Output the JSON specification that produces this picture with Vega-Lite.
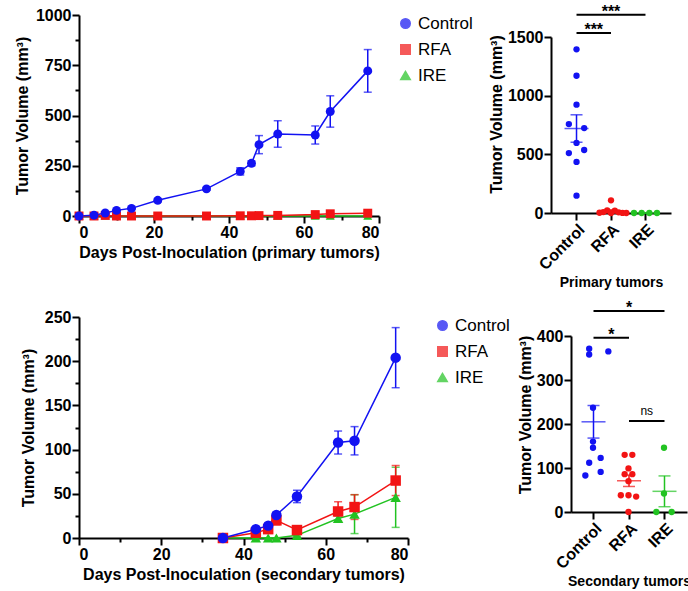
{
  "$schema": "https://vega.github.io/schema/vega-lite/v6.json",
  "padding": {"left": 14, "top": 3, "right": 0, "bottom": 0},
  "config": {
    "font": "Liberation Sans",
    "view": {"stroke": null},
    "axis": {
      "grid": false,
      "domainColor": "black", "domainWidth": 2,
      "tickColor": "black", "tickWidth": 2, "tickSize": 7,
      "labelFont": "Liberation Sans", "labelFontWeight": "bold", "labelFontSize": 16, "labelColor": "black", "labelPadding": 1,
      "titleFont": "Liberation Sans", "titleFontWeight": "bold", "titleFontSize": 16, "titleColor": "black"
    },
    "legend": {"labelFont": "Liberation Sans", "labelFontSize": 17, "labelColor": "black", "symbolSize": 90, "rowPadding": 8}
  },
  "datasets": {
    "primaryGrowth": [
      {"group": "IRE", "day": 0, "mean": 0, "sem": 0},
      {"group": "IRE", "day": 4, "mean": 0, "sem": 0},
      {"group": "IRE", "day": 7, "mean": 2, "sem": 1},
      {"group": "IRE", "day": 10, "mean": 0, "sem": 0},
      {"group": "IRE", "day": 14, "mean": 0, "sem": 0},
      {"group": "IRE", "day": 21, "mean": 0, "sem": 0},
      {"group": "IRE", "day": 34, "mean": 0, "sem": 0},
      {"group": "IRE", "day": 43, "mean": 0, "sem": 0},
      {"group": "IRE", "day": 46, "mean": 0, "sem": 0},
      {"group": "IRE", "day": 48, "mean": 0, "sem": 0},
      {"group": "IRE", "day": 53, "mean": 0, "sem": 0},
      {"group": "IRE", "day": 63, "mean": 0, "sem": 0},
      {"group": "IRE", "day": 67, "mean": 0, "sem": 0},
      {"group": "IRE", "day": 77, "mean": 0, "sem": 0},
      {"group": "RFA", "day": 0, "mean": 0, "sem": 0},
      {"group": "RFA", "day": 4, "mean": 0, "sem": 0},
      {"group": "RFA", "day": 7, "mean": 3, "sem": 1},
      {"group": "RFA", "day": 10, "mean": 0, "sem": 0},
      {"group": "RFA", "day": 14, "mean": 0, "sem": 0},
      {"group": "RFA", "day": 21, "mean": 0, "sem": 0},
      {"group": "RFA", "day": 34, "mean": 0, "sem": 0},
      {"group": "RFA", "day": 43, "mean": 1, "sem": 1},
      {"group": "RFA", "day": 46, "mean": 1, "sem": 1},
      {"group": "RFA", "day": 48, "mean": 2, "sem": 1},
      {"group": "RFA", "day": 53, "mean": 3, "sem": 1},
      {"group": "RFA", "day": 63, "mean": 7, "sem": 3},
      {"group": "RFA", "day": 67, "mean": 11, "sem": 5},
      {"group": "RFA", "day": 77, "mean": 14, "sem": 8},
      {"group": "Control", "day": 0, "mean": 0, "sem": 0},
      {"group": "Control", "day": 4, "mean": 4, "sem": 1},
      {"group": "Control", "day": 7, "mean": 15, "sem": 3},
      {"group": "Control", "day": 10, "mean": 28, "sem": 4},
      {"group": "Control", "day": 14, "mean": 38, "sem": 5},
      {"group": "Control", "day": 21, "mean": 78, "sem": 8},
      {"group": "Control", "day": 34, "mean": 135, "sem": 7},
      {"group": "Control", "day": 43, "mean": 222, "sem": 18},
      {"group": "Control", "day": 46, "mean": 262, "sem": 12},
      {"group": "Control", "day": 48, "mean": 355, "sem": 45},
      {"group": "Control", "day": 53, "mean": 408, "sem": 66},
      {"group": "Control", "day": 63, "mean": 403, "sem": 45},
      {"group": "Control", "day": 67, "mean": 520, "sem": 78},
      {"group": "Control", "day": 77, "mean": 722, "sem": 106}
    ],
    "secondaryGrowth": [
      {"group": "IRE", "day": 35, "mean": 0, "sem": 0},
      {"group": "IRE", "day": 43, "mean": 0, "sem": 0},
      {"group": "IRE", "day": 46, "mean": 0, "sem": 0},
      {"group": "IRE", "day": 48, "mean": 0, "sem": 0},
      {"group": "IRE", "day": 53, "mean": 3, "sem": 1},
      {"group": "IRE", "day": 63, "mean": 22, "sem": 3},
      {"group": "IRE", "day": 67, "mean": 27, "sem": 22},
      {"group": "IRE", "day": 77, "mean": 46, "sem": 34},
      {"group": "RFA", "day": 35, "mean": 0, "sem": 0},
      {"group": "RFA", "day": 43, "mean": 6, "sem": 2},
      {"group": "RFA", "day": 46, "mean": 10, "sem": 3},
      {"group": "RFA", "day": 48, "mean": 20, "sem": 5},
      {"group": "RFA", "day": 53, "mean": 9, "sem": 2},
      {"group": "RFA", "day": 63, "mean": 30, "sem": 11},
      {"group": "RFA", "day": 67, "mean": 35, "sem": 14},
      {"group": "RFA", "day": 77, "mean": 65, "sem": 17},
      {"group": "Control", "day": 35, "mean": 0, "sem": 0},
      {"group": "Control", "day": 43, "mean": 10, "sem": 2},
      {"group": "Control", "day": 46, "mean": 14, "sem": 2},
      {"group": "Control", "day": 48, "mean": 26, "sem": 3},
      {"group": "Control", "day": 53, "mean": 47, "sem": 7},
      {"group": "Control", "day": 63, "mean": 108, "sem": 13},
      {"group": "Control", "day": 67, "mean": 110, "sem": 16},
      {"group": "Control", "day": 77, "mean": 204, "sem": 34}
    ],
    "primaryFinal": [
      {"group": "Control", "slot": "5", "volume": 1395},
      {"group": "Control", "slot": "5", "volume": 1170},
      {"group": "Control", "slot": "5", "volume": 923},
      {"group": "Control", "slot": "3", "volume": 758},
      {"group": "Control", "slot": "7", "volume": 724},
      {"group": "Control", "slot": "5", "volume": 597},
      {"group": "Control", "slot": "3", "volume": 511},
      {"group": "Control", "slot": "7", "volume": 537},
      {"group": "Control", "slot": "5", "volume": 435},
      {"group": "Control", "slot": "5", "volume": 148},
      {"group": "RFA", "slot": "5", "volume": 108},
      {"group": "RFA", "slot": "4", "volume": 22},
      {"group": "RFA", "slot": "6", "volume": 20},
      {"group": "RFA", "slot": "3", "volume": 8},
      {"group": "RFA", "slot": "7", "volume": 6},
      {"group": "RFA", "slot": "2", "volume": 2},
      {"group": "RFA", "slot": "8", "volume": 1},
      {"group": "RFA", "slot": "5", "volume": 0},
      {"group": "RFA", "slot": "9", "volume": 0},
      {"group": "IRE", "slot": "2", "volume": 0},
      {"group": "IRE", "slot": "4", "volume": 0},
      {"group": "IRE", "slot": "6", "volume": 0},
      {"group": "IRE", "slot": "8", "volume": 0}
    ],
    "primaryStats": [
      {"group": "Control", "mean": 720, "sem": 117},
      {"group": "RFA", "mean": 16, "sem": 11},
      {"group": "IRE", "mean": 0, "sem": 0}
    ],
    "primarySig": [
      {"from": "Control", "to": "IRE", "level": 1690, "label": "***"},
      {"from": "Control", "to": "RFA", "level": 1535, "label": "***"}
    ],
    "secondaryFinal": [
      {"group": "Control", "slot": "4", "volume": 371},
      {"group": "Control", "slot": "4", "volume": 358},
      {"group": "Control", "slot": "9", "volume": 365},
      {"group": "Control", "slot": "5", "volume": 237},
      {"group": "Control", "slot": "5", "volume": 160},
      {"group": "Control", "slot": "5", "volume": 146},
      {"group": "Control", "slot": "4", "volume": 112},
      {"group": "Control", "slot": "7", "volume": 123},
      {"group": "Control", "slot": "3", "volume": 83},
      {"group": "Control", "slot": "7", "volume": 91},
      {"group": "RFA", "slot": "4", "volume": 130},
      {"group": "RFA", "slot": "6", "volume": 130},
      {"group": "RFA", "slot": "5", "volume": 99},
      {"group": "RFA", "slot": "4", "volume": 86},
      {"group": "RFA", "slot": "6", "volume": 86},
      {"group": "RFA", "slot": "5", "volume": 70},
      {"group": "RFA", "slot": "3", "volume": 38},
      {"group": "RFA", "slot": "5", "volume": 38},
      {"group": "RFA", "slot": "7", "volume": 35},
      {"group": "RFA", "slot": "5", "volume": 0},
      {"group": "IRE", "slot": "5", "volume": 146},
      {"group": "IRE", "slot": "5", "volume": 42},
      {"group": "IRE", "slot": "3", "volume": 0},
      {"group": "IRE", "slot": "7", "volume": 0}
    ],
    "secondaryStats": [
      {"group": "Control", "mean": 205, "sem": 37},
      {"group": "RFA", "mean": 71, "sem": 13},
      {"group": "IRE", "mean": 47, "sem": 35}
    ],
    "secondarySig": [
      {"from": "Control", "to": "IRE", "level": 457, "label": "*"},
      {"from": "Control", "to": "RFA", "level": 396, "label": "*"},
      {"from": "RFA", "to": "IRE", "level": 207, "label": "ns"}
    ]
  },
  "resolve": {"scale": {"color": "independent", "shape": "independent"}},
  "spacing": 9,
  "vconcat": [
    {
      "spacing": 15,
      "resolve": {"scale": {"color": "independent", "shape": "independent"}},
      "hconcat": [
        {
          "width": 300, "height": 201,
          "data": {"name": "primaryGrowth"},
          "resolve": {"axis": {"x": "independent", "y": "independent"}},
          "encoding": {
            "color": {"field": "group", "type": "nominal", "scale": {"domain": ["Control", "RFA", "IRE"], "range": ["#1212f2", "#f21414", "#22c322"]}, "legend": {"title": null, "offset": 18}}
          },
          "layer": [
            {
              "mark": {"type": "errorbar", "ticks": {"size": 8}, "thickness": 1.5},
              "encoding": {
                "x": {"field": "day", "type": "quantitative", "scale": {"domain": [0, 80], "nice": false}, "axis": null},
                "y": {"field": "mean", "type": "quantitative", "scale": {"domain": [0, 1000], "nice": false}, "axis": null},
                "yError": {"field": "sem"}
              }
            },
            {
              "mark": {"type": "line", "strokeWidth": 1.5},
              "encoding": {
                "x": {"field": "day", "type": "quantitative", "scale": {"domain": [0, 80], "nice": false}, "axis": {"orient": "bottom", "values": [10, 30, 50, 70], "labels": false, "domain": false, "tickSize": 4, "title": null}},
                "y": {"field": "mean", "type": "quantitative", "scale": {"domain": [0, 1000], "nice": false}, "axis": {"orient": "left", "values": [125, 375, 625, 875], "labels": false, "domain": false, "tickSize": 4, "title": null}}
              }
            },
            {
              "mark": {"type": "point", "filled": true, "size": 80, "opacity": 1},
              "encoding": {
                "x": {"field": "day", "type": "quantitative", "scale": {"domain": [0, 80], "nice": false}, "axis": {"orient": "bottom", "values": [0, 20, 40, 60, 80], "titlePadding": 4}, "title": "Days Post-Inoculation (primary tumors)"},
                "y": {"field": "mean", "type": "quantitative", "scale": {"domain": [0, 1000], "nice": false}, "axis": {"orient": "left", "values": [0, 250, 500, 750, 1000], "format": "d", "titlePadding": 5}, "title": "Tumor Volume (mm³)"},
                "shape": {"field": "group", "type": "nominal", "scale": {"domain": ["Control", "RFA", "IRE"], "range": ["circle", "square", "triangle-up"]}, "legend": {"title": null, "offset": 18}}
              }
            }
          ]
        },
        {
          "width": 120, "height": 198,
          "encoding": {
            "x": {"field": "group", "type": "nominal", "scale": {"domain": ["Control", "RFA", "IRE"], "paddingInner": 0, "paddingOuter": 0.24}, "axis": {"title": "Primary tumors", "titleFontSize": 14, "titlePadding": 3, "labelAngle": -45}}
          },
          "layer": [
            {
              "data": {"name": "primaryFinal"},
              "mark": {"type": "circle", "size": 40, "opacity": 1},
              "encoding": {
                "xOffset": {"field": "slot", "type": "nominal", "scale": {"domain": ["1", "2", "3", "4", "5", "6", "7", "8", "9"]}},
                "y": {"field": "volume", "type": "quantitative", "scale": {"domain": [0, 1687.5], "nice": false}, "axis": {"orient": "left", "values": [0, 500, 1000, 1500], "format": "d", "domainDash": [176, 400], "titlePadding": 3}, "title": "Tumor Volume (mm³)"},
                "color": {"field": "group", "type": "nominal", "scale": {"domain": ["Control", "RFA", "IRE"], "range": ["#1212f2", "#f21414", "#22c322"]}, "legend": null}
              }
            },
            {
              "data": {"name": "primaryStats"},
              "mark": {"type": "tick", "size": 24, "thickness": 1.5},
              "encoding": {
                "y": {"field": "mean", "type": "quantitative", "title": "Tumor Volume (mm³)"},
                "color": {"field": "group", "type": "nominal", "legend": null}
              }
            },
            {
              "data": {"name": "primaryStats"},
              "mark": {"type": "errorbar", "ticks": {"size": 12}, "thickness": 1.5},
              "encoding": {
                "y": {"field": "mean", "type": "quantitative", "title": "Tumor Volume (mm³)"},
                "yError": {"field": "sem"},
                "color": {"field": "group", "type": "nominal", "legend": null}
              }
            },
            {
              "data": {"name": "primarySig"},
              "mark": {"type": "rule", "strokeWidth": 2, "color": "black"},
              "encoding": {
                "x": {"field": "from", "type": "nominal"},
                "x2": {"field": "to"},
                "y": {"field": "level", "type": "quantitative", "title": "Tumor Volume (mm³)"}
              }
            },
            {
              "data": {"name": "primarySig"},
              "transform": [{"filter": "datum.from == 'Control' && datum.to == 'IRE'"}],
              "mark": {"type": "text", "fontSize": 16, "fontWeight": "bold", "baseline": "alphabetic", "dy": 2, "color": "black"},
              "encoding": {
                "x": {"datum": "RFA", "type": "nominal"},
                "y": {"field": "level", "type": "quantitative", "title": "Tumor Volume (mm³)"},
                "text": {"field": "label"}
              }
            },
            {
              "data": {"name": "primarySig"},
              "transform": [{"filter": "!(datum.from == 'Control' && datum.to == 'IRE')"}],
              "mark": {"type": "text", "fontSize": 16, "fontWeight": "bold", "baseline": "alphabetic", "dy": 2, "color": "black"},
              "encoding": {
                "x": {"field": "from", "type": "nominal", "bandPosition": 1},
                "y": {"field": "level", "type": "quantitative", "title": "Tumor Volume (mm³)"},
                "text": {"field": "label"}
              }
            }
          ]
        }
      ]
    },
    {
      "spacing": 7,
      "resolve": {"scale": {"color": "independent", "shape": "independent"}},
      "hconcat": [
        {
          "width": 329, "height": 221,
          "data": {"name": "secondaryGrowth"},
          "resolve": {"axis": {"x": "independent", "y": "independent"}},
          "encoding": {
            "color": {"field": "group", "type": "nominal", "scale": {"domain": ["Control", "RFA", "IRE"], "range": ["#1212f2", "#f21414", "#22c322"]}, "legend": {"title": null, "offset": 26}}
          },
          "layer": [
            {
              "mark": {"type": "errorbar", "ticks": {"size": 8}, "thickness": 1.5},
              "encoding": {
                "x": {"field": "day", "type": "quantitative", "scale": {"domain": [0, 80], "nice": false}, "axis": null},
                "y": {"field": "mean", "type": "quantitative", "scale": {"domain": [0, 250], "nice": false}, "axis": null},
                "yError": {"field": "sem"}
              }
            },
            {
              "mark": {"type": "line", "strokeWidth": 1.5},
              "encoding": {
                "x": {"field": "day", "type": "quantitative", "scale": {"domain": [0, 80], "nice": false}, "axis": {"orient": "bottom", "values": [10, 30, 50, 70], "labels": false, "domain": false, "tickSize": 4, "title": null}},
                "y": {"field": "mean", "type": "quantitative", "scale": {"domain": [0, 250], "nice": false}, "axis": {"orient": "left", "values": [25, 75, 125, 175, 225], "labels": false, "domain": false, "tickSize": 4, "title": null}}
              }
            },
            {
              "mark": {"type": "point", "filled": true, "size": 110, "opacity": 1},
              "encoding": {
                "x": {"field": "day", "type": "quantitative", "scale": {"domain": [0, 80], "nice": false}, "axis": {"orient": "bottom", "values": [0, 20, 40, 60, 80], "titlePadding": 4}, "title": "Days Post-Inoculation (secondary tumors)"},
                "y": {"field": "mean", "type": "quantitative", "scale": {"domain": [0, 250], "nice": false}, "axis": {"orient": "left", "values": [0, 50, 100, 150, 200, 250], "titlePadding": 8}, "title": "Tumor Volume (mm³)"},
                "shape": {"field": "group", "type": "nominal", "scale": {"domain": ["Control", "RFA", "IRE"], "range": ["circle", "square", "triangle-up"]}, "legend": {"title": null, "offset": 26}}
              }
            }
          ]
        },
        {
          "width": 116, "height": 195,
          "encoding": {
            "x": {"field": "group", "type": "nominal", "scale": {"domain": ["Control", "RFA", "IRE"], "paddingInner": 0, "paddingOuter": 0.134}, "axis": {"title": "Secondary tumors", "titleFontSize": 14, "titlePadding": 3, "labelAngle": -45}}
          },
          "layer": [
            {
              "data": {"name": "secondaryFinal"},
              "mark": {"type": "circle", "size": 40, "opacity": 1},
              "encoding": {
                "xOffset": {"field": "slot", "type": "nominal", "scale": {"domain": ["1", "2", "3", "4", "5", "6", "7", "8", "9"]}},
                "y": {"field": "volume", "type": "quantitative", "scale": {"domain": [0, 443.2], "nice": false}, "axis": {"orient": "left", "values": [0, 100, 200, 300, 400], "domainDash": [176, 400], "titlePadding": 3}, "title": "Tumor Volume (mm³)"},
                "color": {"field": "group", "type": "nominal", "scale": {"domain": ["Control", "RFA", "IRE"], "range": ["#1212f2", "#f21414", "#22c322"]}, "legend": null}
              }
            },
            {
              "data": {"name": "secondaryStats"},
              "mark": {"type": "tick", "size": 24, "thickness": 1.5},
              "encoding": {
                "y": {"field": "mean", "type": "quantitative", "title": "Tumor Volume (mm³)"},
                "color": {"field": "group", "type": "nominal", "legend": null}
              }
            },
            {
              "data": {"name": "secondaryStats"},
              "mark": {"type": "errorbar", "ticks": {"size": 12}, "thickness": 1.5},
              "encoding": {
                "y": {"field": "mean", "type": "quantitative", "title": "Tumor Volume (mm³)"},
                "yError": {"field": "sem"},
                "color": {"field": "group", "type": "nominal", "legend": null}
              }
            },
            {
              "data": {"name": "secondarySig"},
              "mark": {"type": "rule", "strokeWidth": 2, "color": "black"},
              "encoding": {
                "x": {"field": "from", "type": "nominal"},
                "x2": {"field": "to"},
                "y": {"field": "level", "type": "quantitative", "title": "Tumor Volume (mm³)"}
              }
            },
            {
              "data": {"name": "secondarySig"},
              "transform": [{"filter": "datum.from == 'Control' && datum.to == 'IRE'"}],
              "mark": {"type": "text", "fontSize": 16, "fontWeight": "bold", "baseline": "alphabetic", "dy": 2, "color": "black"},
              "encoding": {
                "x": {"datum": "RFA", "type": "nominal"},
                "y": {"field": "level", "type": "quantitative", "title": "Tumor Volume (mm³)"},
                "text": {"field": "label"}
              }
            },
            {
              "data": {"name": "secondarySig"},
              "transform": [{"filter": "datum.from == 'Control' && datum.to == 'RFA'"}],
              "mark": {"type": "text", "fontSize": 16, "fontWeight": "bold", "baseline": "alphabetic", "dy": 2, "color": "black"},
              "encoding": {
                "x": {"field": "from", "type": "nominal", "bandPosition": 1},
                "y": {"field": "level", "type": "quantitative", "title": "Tumor Volume (mm³)"},
                "text": {"field": "label"}
              }
            },
            {
              "data": {"name": "secondarySig"},
              "transform": [{"filter": "datum.from == 'RFA' && datum.to == 'IRE'"}],
              "mark": {"type": "text", "fontSize": 12, "baseline": "bottom", "dy": -3, "color": "black"},
              "encoding": {
                "x": {"field": "from", "type": "nominal", "bandPosition": 1},
                "y": {"field": "level", "type": "quantitative", "title": "Tumor Volume (mm³)"},
                "text": {"field": "label"}
              }
            }
          ]
        }
      ]
    }
  ]
}
